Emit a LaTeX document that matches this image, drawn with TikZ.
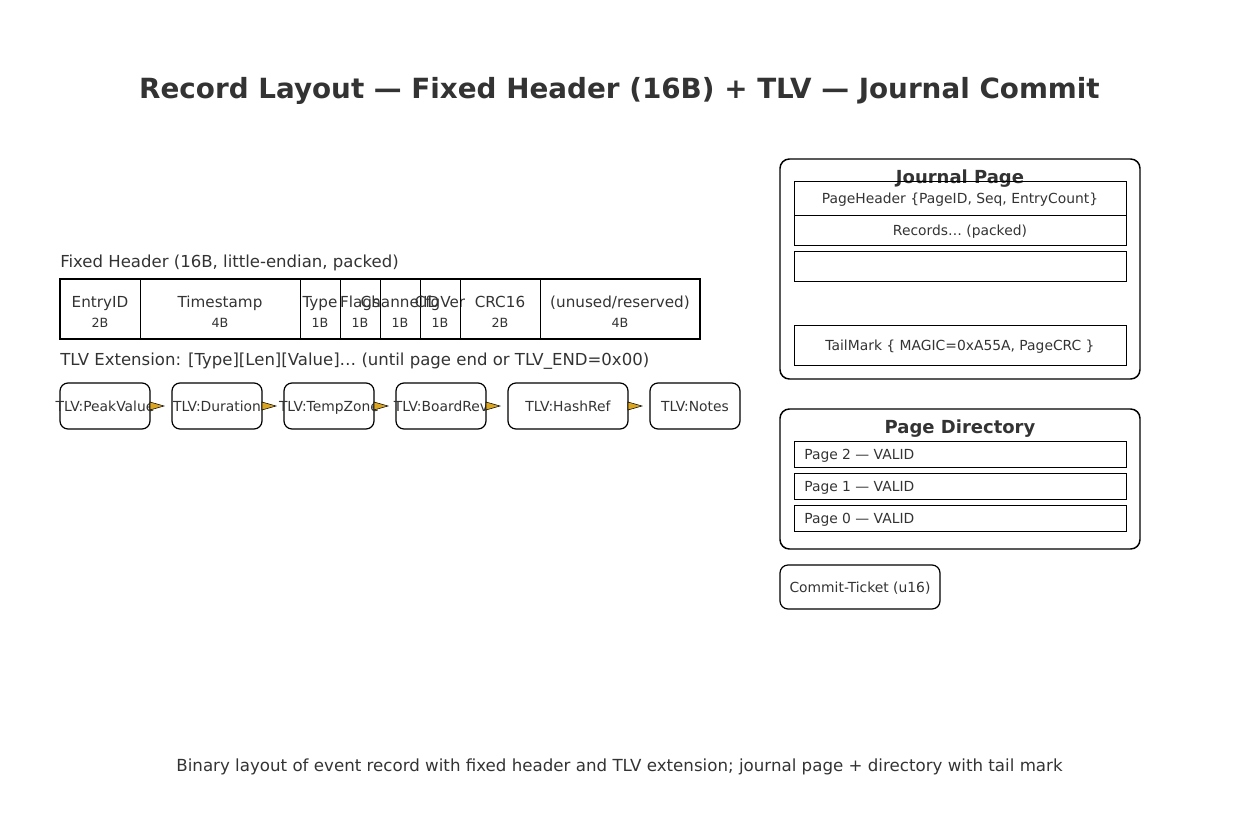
\documentclass[tikz,border=0pt]{standalone}
\usepackage{fontspec}
\setmainfont{DejaVu Sans}
\usetikzlibrary{positioning}
\definecolor{txt}{HTML}{333333}
\definecolor{gold}{HTML}{DAA520}
\tikzset{
  inner/.style={draw=black, line width=0.7pt, inner sep=0, text=txt, font=\fontsize{10.4}{12}\selectfont},
  rbox/.style={draw=black, line width=0.9pt, rounded corners=6pt, inner sep=0, text=txt, font=\fontsize{10.4}{12}\selectfont},
  lbl/.style={text=txt, inner sep=0, font=\fontsize{12.4}{14}\selectfont},
  clbl/.style={text=txt, inner sep=0, anchor=base, font=\fontsize{11.4}{13}\selectfont},
  small/.style={text=txt, inner sep=0, anchor=base, font=\fontsize{9.5}{11}\selectfont},
  tlvtext/.style={text=txt, inner sep=0, anchor=base, font=\fontsize{10.4}{12}\selectfont},
  tip/.style={draw=black, line width=0.4pt, fill=gold},
}
\begin{document}
\begin{tikzpicture}[x=0.75pt,y=-0.75pt]
\useasboundingbox (0,0) rectangle (1239,839);
\node[text=txt, font=\bfseries\fontsize{20.85}{25}\selectfont] (title) at (619.5,91) {Record Layout — Fixed Header (16B) + TLV — Journal Commit};

% Fixed header
\node[lbl, anchor=west] (fhl) at (60,263) {Fixed Header (16B, little-endian, packed)};
\foreach \n/\a/\b/\t/\s in {e/60/140/EntryID/2B, ts/140/300/Timestamp/4B, ty/300/340/Type/1B, fl/340/380/Flags/1B, ch/380/420/ChannelID/1B, cv/420/460/CfgVer/1B, crc/460/540/CRC16/2B, res/540/700/{(unused/reserved)}/4B}{
  \draw[line width=0.7pt] (\a,279) rectangle (\b,339);
  \node[clbl] (\n) at ({(\a+\b)/2},307.5) {\t};
  \node[small] (\n s) at ({(\a+\b)/2},327.5) {\s};
}
\draw[line width=1.3pt] (60,279) rectangle (700,339);
\node[lbl, anchor=west] (tlvl) at (60,361) {TLV Extension: [Type][Len][Value]… (until page end or TLV\_END=0x00)};

% TLV boxes
\foreach \n/\a/\b/\t in {t1/60/150/PeakValue, t2/172/262/Duration, t3/284/374/TempZone, t4/396/486/BoardRev, t5/508/628/HashRef, t6/650/740/Notes}{
  \draw[line width=0.9pt, rounded corners=6pt] (\a,383) rectangle (\b,429);
  \node[tlvtext] (\n) at ({(\a+\b)/2},411) {TLV:\t};
  \coordinate (\n r) at (\b,406);
}
\foreach \n in {t1,t2,t3,t4,t5}{
  \filldraw[tip] (\n r) ++(0,-4) -- ++(14,4) -- ++(-14,4) -- cycle;
}

% Journal page
\draw[line width=1.1pt, rounded corners=7pt] (780,159) rectangle (1140,379);
\node[text=txt, font=\bfseries\fontsize{13.5}{16}\selectfont, inner sep=0] (jpt) at (960,179) {Journal Page};
\node[inner, minimum width=332*0.75pt, minimum height=34*0.75pt] (ph) at (960,198) {};
\node[text=txt, inner sep=0, font=\fontsize{10.4}{12}\selectfont] (pht) at (960,199.5) {PageHeader \{PageID, Seq, EntryCount\}};
\node[inner, minimum width=332*0.75pt, minimum height=30*0.75pt] (rec) at (960,230) {};
\node[text=txt, inner sep=0, font=\fontsize{10.4}{12}\selectfont] (rect) at (960,231.5) {Records… (packed)};
\node[inner, minimum width=332*0.75pt, minimum height=30*0.75pt] (emp) at (960,266) {};
\node[inner, minimum width=332*0.75pt, minimum height=40*0.75pt] (tail) at (960,345) {};
\node[text=txt, inner sep=0, font=\fontsize{10.4}{12}\selectfont] (tailt) at (960,346.5) {TailMark \{ MAGIC=0xA55A, PageCRC \}};

% Page directory
\draw[line width=1.1pt, rounded corners=7pt] (780,409) rectangle (1140,549);
\node[text=txt, font=\bfseries\fontsize{13.5}{16}\selectfont, inner sep=0] (pdt) at (960,428.5) {Page Directory};
\foreach \n/\y/\k in {p2/454/2, p1/486/1, p0/518/0}{
  \node[inner, minimum width=332*0.75pt, minimum height=26*0.75pt] (\n) at (960,\y) {};
  \node[text=txt, inner sep=0, anchor=west, font=\fontsize{10.4}{12}\selectfont] (\n t) at (804,\y+1.5) {Page \k\ — VALID};
}

% Commit ticket
\node[rbox, minimum width=160*0.75pt, minimum height=44*0.75pt] (ct) at (860,587) {};
\node[text=txt, inner sep=0, font=\fontsize{10.4}{12}\selectfont] (ctt) at (860,588.5) {Commit-Ticket (u16)};

% caption
\node[text=txt, inner sep=0, font=\fontsize{12.5}{15}\selectfont] (cap) at (619.5,766.5) {Binary layout of event record with fixed header and TLV extension; journal page + directory with tail mark};
\end{tikzpicture}
\end{document}
